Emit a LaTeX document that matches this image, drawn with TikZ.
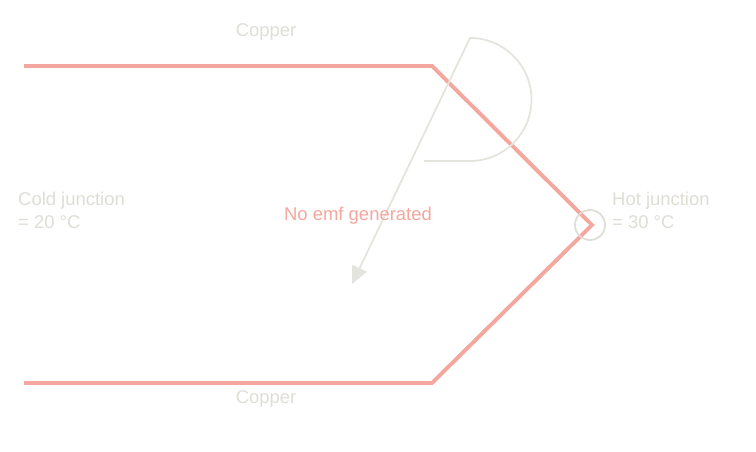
\documentclass[tikz,border=0pt]{standalone}
\usepackage{fontspec}
\setmainfont{Liberation Sans}
\usetikzlibrary{arrows.meta, positioning}
\definecolor{wirered}{HTML}{F4A79E}
\definecolor{softgray}{HTML}{DEDDD6}
\tikzset{
  wire/.style={wirered, line width=2.2pt},
  lbl/.style={softgray, font=\fontsize{10.5}{13}\selectfont, align=left},
  flow/.style={softgray!80, line width=1pt, -{Triangle[length=10pt, width=9pt]}}
}
\begin{document}
\begin{tikzpicture}[x=0.02cm, y=-0.02cm]
\useasboundingbox (0,0) rectangle (756,452);

% wire loop
\coordinate (tl) at (24,66);
\coordinate (tr) at (432,66);
\coordinate (hot) at (592,225);
\coordinate (br) at (432,383);
\coordinate (bl) at (24,383);
\draw[wire, line join=miter] (tl) -- (tr) -- (hot) -- (br) -- (bl);
\draw[softgray, line width=1pt] (590,225) circle (15);

% current path
\coordinate (start) at (424,161);
\coordinate (finish) at (352,284);
\draw[flow] (start) -- (470,161) arc (90:-90:61.5) -- (finish);

% labels
\node[lbl] (topcu) at (266,32) {Copper};
\node[lbl] (botcu) at (266,399) {Copper};
\node[lbl, anchor=west] (cold) at (12,210) {Cold junction\\= 20 °C};
\node[lbl, anchor=west] (hotlbl) at (606,210) {Hot junction\\= 30 °C};
\node[lbl, text=wirered] (emf) at (358,216) {No emf generated};
\end{tikzpicture}
\end{document}
